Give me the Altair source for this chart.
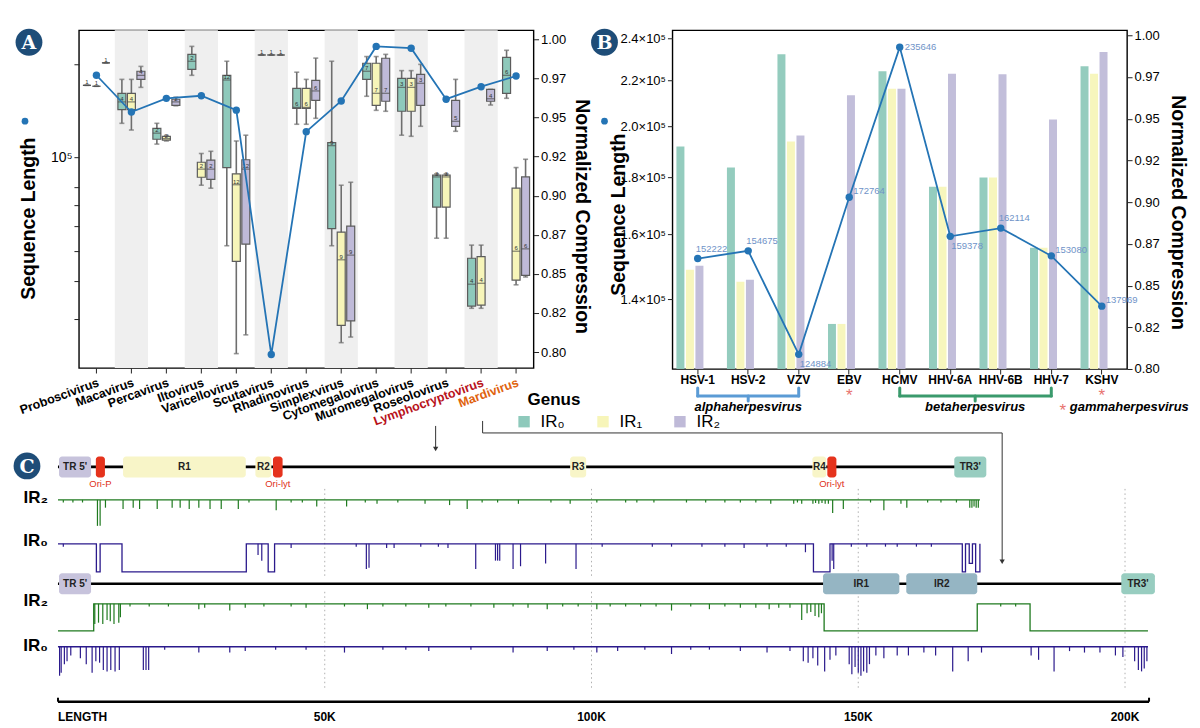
import altair as alt
import pandas as pd

FONT = "Liberation Sans"
IR_DOMAIN = ["IR0", "IR1", "IR2"]
IR_COLORS = ["#8ec9bb", "#f7f5b9", "#bfbad8"]
LINE_BLUE = "#2474b5"
LABEL_BLUE = "#6f93c8"
BADGE_BLUE = "#1e4d78"

# ---------------- Panel A data ----------------
genera = ["Proboscivirus", "Macavirus", "Percavirus", "Iltovirus", "Varicellovirus",
          "Scutavirus", "Rhadinovirus", "Simplexvirus", "Cytomegalovirus",
          "Muromegalovirus", "Roseolovirus", "Lymphocryptovirus", "Mardivirus"]
genus_seq_len = [184000, 140000, 155000, 158000, 142000, 23100, 121000,
                 152000, 228000, 225000, 154000, 169000, 183000]

# box statistics, per genus in order IR0, IR1, IR2
box_lo = [0.9706, 0.970, 0.985, 0.9463, 0.942, 0.9693, 0.933, 0.935, 0.9575,
          0.977, 0.9067, 0.9048, 0.868, 0.799, 0.811, 0.990, 0.990, 0.990,
          0.9457, 0.9457, 0.9495, 0.868, 0.806, 0.8096, 0.9636, 0.9546, 0.954,
          0.9387, 0.938, 0.9444, 0.8728, 0.8728, 0.9412, 0.828, 0.828, 0.958,
          0.9623, 0.843, 0.848]
box_q1 = [0.9706, 0.970, 0.985, 0.955, 0.955, 0.9744, 0.9361, 0.9355, 0.9578,
          0.9808, 0.9118, 0.9105, 0.918, 0.858, 0.869, 0.990, 0.990, 0.990,
          0.9559, 0.9559, 0.961, 0.879, 0.817, 0.820, 0.9744, 0.9578, 0.9604,
          0.954, 0.954, 0.9578, 0.8927, 0.8927, 0.9444, 0.8294, 0.830, 0.9604,
          0.9655, 0.846, 0.849]
box_med = [0.9706, 0.970, 0.985, 0.960, 0.960, 0.977, 0.940, 0.9365, 0.960,
           0.986, 0.917, 0.917, 0.974, 0.907, 0.917, 0.990, 0.990, 0.990,
           0.9565, 0.9565, 0.967, 0.932, 0.859, 0.862, 0.9796, 0.9655, 0.9655,
           0.9693, 0.9693, 0.9719, 0.912, 0.912, 0.9476, 0.8434, 0.844, 0.962,
           0.977, 0.8645, 0.866]
box_q3 = [0.9706, 0.970, 0.985, 0.9655, 0.9655, 0.9796, 0.9431, 0.938, 0.9617,
          0.9904, 0.9214, 0.9227, 0.977, 0.914, 0.923, 0.990, 0.990, 0.990,
          0.9687, 0.9687, 0.9738, 0.934, 0.8767, 0.8805, 0.9847, 0.9847, 0.9879,
          0.975, 0.975, 0.9776, 0.9131, 0.9131, 0.961, 0.860, 0.861, 0.968,
          0.9885, 0.9048, 0.912]
box_hi = [0.9706, 0.970, 0.985, 0.9744, 0.9744, 0.9827, 0.9463, 0.9385, 0.963,
          0.9955, 0.927, 0.9284, 0.986, 0.935, 0.9387, 0.990, 0.990, 0.990,
          0.979, 0.9744, 0.988, 0.986, 0.9067, 0.9086, 0.989, 0.989, 0.9904,
          0.980, 0.980, 0.984, 0.914, 0.914, 0.9744, 0.8684, 0.8684, 0.968,
          0.993, 0.918, 0.9233]
box_n = [1, 1, 1, 4, 4, 4, 2, 2, 2, 2, 2, 2, 12, 12, 12, 1, 1, 1, 6, 6, 6,
         9, 9, 9, 7, 7, 7, 3, 3, 3, 3, 3, 5, 4, 4, 4, 6, 6, 6]

# ---------------- Panel B data ----------------
viruses = ["HSV-1", "HSV-2", "VZV", "EBV", "HCMV", "HHV-6A", "HHV-6B", "HHV-7", "KSHV"]
virus_seq_len = [152222, 154675, 124884, 172764, 235646, 159378, 162114, 153080, 137969]
comp_ir0 = [0.9333, 0.9207, 0.9886, 0.827, 0.9784, 0.9093, 0.9147, 0.8727, 0.9814]
comp_ir1 = [0.8595, 0.8523, 0.9363, 0.827, 0.968, 0.9093, 0.9147, 0.8727, 0.977]
comp_ir2 = [0.8619, 0.8535, 0.940, 0.964, 0.968, 0.977, 0.9766, 0.9495, 0.990]
lab_above = ["HSV-1", "HSV-2", "HHV-6B"]
lab_below = ["VZV", "HHV-6A"]
lab_upright = ["EBV", "HHV-7", "KSHV"]
lab_right = ["HCMV"]
starred = ["EBV", "KSHV"]

# ---------------- Panel C data (kb) ----------------
top_len, bot_len = 172.8, 204.5
top_reg_start = [0.2, 7.1, 12.2, 37.0, 40.3, 96.0, 141.4, 144.2, 168.0]
top_reg_end = [6.2, 8.8, 35.2, 40.0, 42.1, 99.0, 144.0, 145.9, 174.0]
top_reg_kind = ["TR5", "ori", "R", "R", "ori", "R", "R", "ori", "TR3"]
top_reg_label = ["TR 5'", "", "R1", "R2", "", "R3", "R4", "", "TR3'"]
top_ori_names = ["Ori-P", "Ori-lyt", "Ori-lyt"]
bot_reg_start = [0.2, 143.4, 159.0, 199.3]
bot_reg_end = [6.2, 157.7, 172.3, 205.6]
bot_reg_kind = ["TR5", "IR", "IR", "TR3"]
bot_reg_label = ["TR 5'", "IR1", "IR2", "TR3'"]
region_kinds = ["TR5", "ori", "R", "TR3", "IR"]
region_colors = ["#c7c3dc", "#e5331d", "#f8f5c8", "#98cdc0", "#95b5c3"]

top_ir2_levels = [(0, 1), (172.8, 1)]
top_ir2_spikes = [(1.0, 0.1), (2.8, 0.1), (4.6, 0.1), (7.4, 1.0), (7.9, 1.0), (8.9, 0.3),
                  (12.2, 0.35), (14.1, 0.3), (15.3, 0.35), (18.6, 0.35), (21.4, 0.3), (22.9, 0.3),
                  (24.6, 0.35), (26.4, 0.3), (28.5, 0.35), (30.6, 0.35), (33.8, 0.35), (35.8, 0.1),
                  (40.9, 0.4), (43.7, 0.1), (45.8, 0.1), (48.5, 0.25), (54.1, 0.25), (57.6, 0.1),
                  (59.8, 0.15), (63.7, 0.1), (68.8, 0.15), (73.4, 0.2), (76.7, 0.35), (79.5, 0.1),
                  (82.4, 0.1), (86.3, 0.15), (92.4, 0.1), (96.0, 0.15), (101.0, 0.1), (106.4, 0.1),
                  (108.5, 0.1), (111.7, 0.1), (117.8, 0.1), (121.4, 0.1), (125.0, 0.1), (127.9, 0.1),
                  (130.8, 0.1), (133.6, 0.15), (137.9, 0.15), (138.6, 0.1), (139.4, 0.15),
                  (141.5, 0.15), (142.0, 0.12), (142.6, 0.15), (143.2, 0.12), (143.8, 0.15),
                  (144.4, 0.15), (145.2, 0.5), (147.2, 0.35), (152.3, 0.1), (154.8, 0.4),
                  (158.0, 0.15), (159.1, 0.3), (163.0, 0.1), (165.5, 0.1), (168.4, 0.1),
                  (170.9, 0.3), (171.3, 0.3), (171.7, 0.25), (172.1, 0.3), (172.5, 0.3)]
top_ir0_levels = [(0, 1), (7.2, 0), (7.9, 1), (12.0, 0), (35.3, 1), (39.4, 0), (40.6, 1),
                  (141.6, 0), (144.7, 1), (169.5, 0), (170.1, 1), (170.8, 0.3), (171.4, 1),
                  (172.0, 0), (172.8, 1)]
top_ir0_spikes = [(1.0, 0.1), (37.5, 0.4), (38.2, 0.6), (43.7, 0.15), (55.9, 0.1), (57.8, 0.9),
                  (58.3, 0.85), (61.6, 0.15), (63.0, 0.15), (68.0, 0.1), (71.3, 0.1), (73.1, 0.15),
                  (78.3, 0.9), (82.0, 0.6), (82.4, 0.6), (82.8, 0.6), (85.3, 0.9), (86.7, 0.8),
                  (91.4, 0.7), (97.1, 0.9), (102.0, 0.1), (111.4, 0.1), (115.0, 0.1), (120.7, 0.1),
                  (125.0, 0.1), (128.6, 0.15), (132.9, 0.1), (136.5, 0.1), (140.1, 0.3),
                  (145.1, 0.6), (145.4, 0.9), (148.7, 0.1), (151.6, 0.1), (155.1, 0.1),
                  (157.3, 0.1), (160.9, 0.1), (163.7, 0.1)]
bot_ir2_levels = [(0, 0), (6.7, 1), (143.6, 0), (172.3, 1), (182.2, 0), (204.3, 0)]
bot_ir2_spikes = [(6.9, 0.75), (7.6, 0.7), (8.4, 0.75), (9.2, 0.6), (9.8, 0.65), (10.5, 0.75),
                  (11.4, 0.7), (11.7, 0.5), (13.5, 0.1), (17.1, 0.1), (20.7, 0.1), (26.4, 0.2),
                  (27.5, 0.15), (32.2, 0.25), (35.1, 0.15), (38.6, 0.1), (43.7, 0.1), (46.5, 0.15),
                  (53.7, 0.1), (58.0, 0.2), (60.9, 0.1), (65.2, 0.1), (69.5, 0.15), (72.7, 0.1),
                  (77.4, 0.1), (81.7, 0.15), (85.3, 0.1), (88.1, 0.15), (91.7, 0.2), (94.6, 0.1),
                  (97.5, 0.1), (101.0, 0.2), (103.5, 0.1), (106.4, 0.1), (109.2, 0.1), (112.1, 0.1),
                  (115.0, 0.25), (118.6, 0.1), (122.1, 0.2), (125.0, 0.1), (127.9, 0.15),
                  (130.8, 0.15), (133.3, 0.2), (135.1, 0.15), (137.2, 0.15), (139.4, 0.6),
                  (140.4, 0.35), (141.1, 0.3), (141.9, 0.45), (142.6, 0.5), (143.1, 0.35),
                  (176.7, 0.1), (179.5, 0.1)]
bot_ir0_levels = [(0, 1), (204.3, 1)]
bot_ir0_spikes = [(0.3, 1.0), (0.6, 0.9), (1.2, 0.6), (1.7, 0.5), (2.4, 0.3), (4.2, 0.4),
                  (5.3, 0.6), (6.4, 0.9), (7.1, 0.5), (7.8, 0.55), (8.5, 0.8), (9.2, 0.85),
                  (9.9, 0.8), (10.7, 0.85), (11.5, 0.8), (16.0, 0.8), (16.5, 0.8), (17.0, 0.8),
                  (20.0, 0.1), (26.4, 0.2), (32.2, 0.2), (35.1, 0.15), (40.8, 0.1), (46.5, 0.1),
                  (53.7, 0.2), (60.9, 0.1), (65.2, 0.1), (69.5, 0.15), (77.4, 0.1), (85.3, 0.2),
                  (91.7, 0.15), (96.7, 0.1), (101.0, 0.2), (104.9, 0.15), (110.0, 0.1),
                  (115.0, 0.25), (118.6, 0.1), (122.1, 0.1), (127.9, 0.15), (132.9, 0.2),
                  (137.2, 0.15), (139.7, 0.5), (140.6, 0.55), (141.5, 0.4), (142.4, 0.65),
                  (143.7, 0.85), (144.7, 0.45), (145.8, 0.3), (148.3, 0.6), (148.8, 0.95),
                  (149.4, 0.7), (150.0, 0.9), (150.5, 1.0), (151.0, 0.85), (151.6, 0.9),
                  (152.1, 0.6), (153.3, 0.3), (154.8, 0.4), (157.3, 0.3), (159.4, 0.3),
                  (162.3, 0.2), (164.5, 0.3), (167.7, 0.85), (170.6, 0.5), (173.1, 0.2),
                  (182.4, 0.3), (183.8, 0.45), (186.7, 0.85), (189.6, 0.15), (192.4, 0.2),
                  (195.3, 0.2), (198.2, 0.3), (199.6, 0.35), (201.8, 0.5), (202.5, 0.8),
                  (203.1, 0.85), (203.6, 0.75), (204.1, 0.5)]
grid_kb = [50, 100, 150, 200]
tick_kb = [0, 50, 100, 150, 200]
tick_text = ["LENGTH", "50K", "100K", "150K", "200K"]

# ======================================================================
ONE = pd.DataFrame({"k": [0]})
LEG = alt.Legend(title="\u2800Genus", orient="none", legendX=437, legendY=362,
                 direction="horizontal", titleFontSize=17, titleFontWeight="bold", labelFontSize=17,
                 symbolType="square", symbolSize=130, symbolStrokeWidth=0, columnPadding=29,
                 labelOffset=8, titlePadding=4,
                 labelExpr="datum.label == 'IR0' ? 'IR₀' : datum.label == 'IR1' ? 'IR₁' : 'IR₂'")
colorIR = alt.Color("ir:N", scale=alt.Scale(domain=IR_DOMAIN, range=IR_COLORS), legend=LEG)
comp_ticks = [0.8, 0.825, 0.85, 0.875, 0.9, 0.925, 0.95, 0.975, 1.0]
comp_lab = "format(floor(datum.value*100+0.001)/100, '.2f')"
TITLE_FS = 19.5


def badge(letter, x, y):
    c = alt.Chart(ONE).mark_circle(size=720, color=BADGE_BLUE, opacity=1).encode(
        x=alt.value(x), y=alt.value(y))
    t = alt.Chart(ONE).mark_text(text=letter, font="DejaVu Serif", fontWeight="bold", fontSize=19,
                                 color="white", baseline="middle", align="center").encode(
        x=alt.value(x), y=alt.value(y + 1))
    return [c, t]


def blue_dot(x, y):
    return alt.Chart(ONE).mark_circle(size=45, color=LINE_BLUE, opacity=1).encode(
        x=alt.value(x), y=alt.value(y))


# ---------------- Panel A ----------------
WA, HA = 455, 338
dfA = pd.DataFrame({"genus": genera, "seq_len": genus_seq_len})
dfBand = pd.DataFrame({"genus": genera[1::2]})
dfBox = pd.DataFrame({"genus": [g for g in genera for _ in IR_DOMAIN],
                      "ir": IR_DOMAIN * len(genera), "lo": box_lo, "q1": box_q1,
                      "med": box_med, "q3": box_q3, "hi": box_hi, "n": box_n})
label_color = ("datum.value == 'Lymphocryptovirus' ? '#b8121b' : "
               "datum.value == 'Mardivirus' ? '#e0620d' : 'black'")
xA = alt.X("genus:N", sort=genera, scale=alt.Scale(domain=genera, paddingInner=0, paddingOuter=0),
           axis=alt.Axis(title=None, labelAngle=-20, labelAlign="right", labelBaseline="top",
                         labelFontSize=12.5, labelFontWeight="bold", tickSize=5, labelPadding=3,
                         domain=False, labelColor=alt.ExprRef(expr=label_color)))
xOffA = alt.XOffset("ir:N", scale=alt.Scale(domain=IR_DOMAIN, paddingInner=0.16, paddingOuter=0.42))
yCompA = alt.Scale(domain=[0.7898, 1.0058], nice=False, zero=False)
axCompA = alt.Axis(orient="right", values=comp_ticks, labelExpr=comp_lab, title="Normalized Compression",
                   titleAngle=90, titleFontSize=TITLE_FS, titleFontWeight="bold", labelFontSize=13,
                   tickSize=5, domain=False, grid=False, titleX=38, titleBaseline="bottom", titleY=186)
yLogA = alt.Scale(type="log", domain=[20900, 257000], nice=False)
axLogA = alt.Axis(orient="left", values=[30000, 40000, 50000, 60000, 70000, 80000, 100000, 200000],
                  labelExpr="datum.value == 100000 ? '10⁵' : ''", labelFontSize=14, tickSize=5,
                  domain=False, grid=False, title="Sequence Length", titleFontSize=TITLE_FS,
                  titleFontWeight="bold", titleX=-40, titleBaseline="bottom", titleY=188)

bands = alt.Chart(dfBand).mark_bar(color="#efefef", width=alt.RelativeBandSize(0.95)).encode(x=xA)
bx = alt.Chart(dfBox)
whisk = bx.mark_rule(color="#6e6e6e", strokeWidth=1.6).encode(
    x=xA, xOffset=xOffA, y=alt.Y("lo:Q", scale=yCompA, axis=axCompA), y2="hi:Q")
cap_lo = bx.mark_tick(orient="horizontal", size=5, thickness=1.6, color="#6e6e6e").encode(
    x=xA, xOffset=xOffA, y=alt.Y("lo:Q", scale=yCompA, axis=axCompA))
cap_hi = bx.mark_tick(orient="horizontal", size=5, thickness=1.6, color="#6e6e6e").encode(
    x=xA, xOffset=xOffA, y=alt.Y("hi:Q", scale=yCompA, axis=axCompA))
boxes = bx.mark_bar(stroke="#5c5c5c", strokeWidth=1.2).encode(
    x=xA, xOffset=xOffA, y=alt.Y("q1:Q", scale=yCompA, axis=axCompA), y2="q3:Q", color=colorIR)
meds = bx.mark_tick(orient="horizontal", size=8, thickness=1.2, color="#4d4d4d").encode(
    x=xA, xOffset=xOffA, y=alt.Y("med:Q", scale=yCompA, axis=axCompA))
counts = bx.mark_text(fontSize=6, color="#333333", dy=-3).encode(
    x=xA, xOffset=xOffA, y=alt.Y("med:Q", scale=yCompA, axis=axCompA), text="n:Q")
box_layer = alt.layer(whisk, cap_lo, cap_hi, boxes, meds, counts)

lnA = alt.Chart(dfA).mark_line(color=LINE_BLUE, strokeWidth=1.8).encode(
    x=xA, y=alt.Y("seq_len:Q", scale=yLogA, axis=axLogA))
ptA = alt.Chart(dfA).mark_circle(size=55, color=LINE_BLUE, opacity=1).encode(
    x=xA, y=alt.Y("seq_len:Q", scale=yLogA, axis=axLogA))
line_layer = alt.layer(lnA, ptA)

A = alt.layer(bands, box_layer, line_layer, *badge("A", -50, 12), blue_dot(-54, 91)).resolve_scale(
    y="independent").properties(width=WA, height=HA)

# ---------------- Panel B ----------------
WB, HB = 455, 339
dfB = pd.DataFrame({"virus": viruses, "seq_len": virus_seq_len})
dfBars = pd.DataFrame({"virus": viruses * 3, "ir": [i for i in IR_DOMAIN for _ in viruses],
                       "comp": comp_ir0 + comp_ir1 + comp_ir2})
xB = alt.X("virus:N", sort=viruses, scale=alt.Scale(domain=viruses, paddingInner=0, paddingOuter=0),
           axis=alt.Axis(title=None, labelAngle=0, labelFontSize=12, labelFontWeight="bold",
                         tickSize=5, domain=False, labelPadding=1))
xOffB = alt.XOffset("ir:N", scale=alt.Scale(domain=IR_DOMAIN, paddingInner=0, paddingOuter=0.4))
yCompB = alt.Scale(domain=[0.80, 1.003], nice=False, zero=False)
axCompB = alt.Axis(orient="right", values=comp_ticks, labelExpr=comp_lab, title="Normalized Compression",
                   titleAngle=90, titleFontSize=TITLE_FS, titleFontWeight="bold", labelFontSize=13,
                   tickSize=5, domain=False, grid=False, titleX=40, titleBaseline="bottom", titleY=182)
yLogB = alt.Scale(type="log", domain=[121160, 244000], nice=False)
axLogB = alt.Axis(orient="left", values=[140000, 160000, 180000, 200000, 220000, 240000],
                  labelExpr="format(datum.value/100000, '.1f') + '×10⁵'", labelFontSize=13, tickSize=5,
                  domain=False, grid=False, title="Sequence Length", titleFontSize=TITLE_FS,
                  titleFontWeight="bold", titleX=-44, titleBaseline="bottom", titleY=184)

bars = alt.Chart(dfBars).mark_bar(opacity=0.95).encode(
    x=xB, xOffset=xOffB, y=alt.Y("comp:Q", scale=yCompB, axis=axCompB), y2=alt.datum(0.8), color=colorIR)
lnB = alt.Chart(dfB).mark_line(color=LINE_BLUE, strokeWidth=1.8).encode(
    x=xB, y=alt.Y("seq_len:Q", scale=yLogB, axis=axLogB))
ptB = alt.Chart(dfB).mark_circle(size=55, color=LINE_BLUE, opacity=1).encode(
    x=xB, y=alt.Y("seq_len:Q", scale=yLogB, axis=axLogB))


def val_labels(names, dx, dy):
    return alt.Chart(dfB).transform_filter(alt.FieldOneOfPredicate(field="virus", oneOf=names)).mark_text(
        fontSize=9.5, color=LABEL_BLUE, align="left", dx=dx, dy=dy).encode(
        x=xB, y=alt.Y("seq_len:Q", scale=yLogB, axis=axLogB), text="seq_len:Q")


lineB = alt.layer(lnB, ptB, val_labels(lab_above, -2, -10), val_labels(lab_below, 1, 10),
                  val_labels(lab_upright, 4, -6), val_labels(lab_right, 5, 0))

dfStar = pd.DataFrame({"virus": starred})
stars = alt.Chart(dfStar).mark_text(text="*", fontSize=17, color="#e8736f").encode(
    x=xB, y=alt.value(366))
ALPHA_C, BETA_C = "#5b9bd5", "#3a9a6c"
dfAlpha = pd.DataFrame({"virus": ["HSV-1"], "virus_end": ["VZV"]})
dfBeta = pd.DataFrame({"virus": ["HCMV"], "virus_end": ["HHV-7"]})
brace = []
for dfg, col in [(dfAlpha, ALPHA_C), (dfBeta, BETA_C)]:
    brace.append(alt.Chart(dfg).mark_rule(color=col, strokeWidth=3, strokeCap="round").encode(
        x=xB, x2="virus_end:N", y=alt.value(366)))
    brace.append(alt.Chart(dfg).mark_rule(color=col, strokeWidth=3, strokeCap="round").encode(
        x=xB, y=alt.value(358), y2=alt.value(366)))
    brace.append(alt.Chart(dfg.assign(virus=dfg["virus_end"])).mark_rule(
        color=col, strokeWidth=3, strokeCap="round").encode(x=xB, y=alt.value(358), y2=alt.value(366)))
brace.append(alt.Chart(pd.DataFrame({"virus": ["HSV-2"]})).mark_rule(
    color=ALPHA_C, strokeWidth=3, strokeCap="round").encode(x=xB, y=alt.value(366), y2=alt.value(371)))
brace.append(alt.Chart(ONE).mark_rule(color=BETA_C, strokeWidth=3, strokeCap="round").encode(
    x=alt.value(303), y=alt.value(366), y2=alt.value(371)))
grp_style = dict(fontSize=13, fontStyle="italic", fontWeight="bold", color="black", baseline="middle")
g_alpha = alt.Chart(pd.DataFrame({"virus": ["HSV-2"]})).mark_text(text="alphaherpesvirus", **grp_style).encode(
    x=xB, y=alt.value(377))
g_beta = alt.Chart(ONE).mark_text(text="betaherpesvirus", **grp_style).encode(
    x=alt.value(303), y=alt.value(377))
g_gamma = alt.Chart(pd.DataFrame({"virus": ["KSHV"]})).mark_text(
    text="gammaherpesvirus", align="left", dx=-32, **grp_style).encode(x=xB, y=alt.value(377))
g_gstar = alt.Chart(pd.DataFrame({"virus": ["KSHV"]})).mark_text(
    text="*", fontSize=17, color="#e8736f", dx=-39).encode(x=xB, y=alt.value(381))

B = alt.layer(bars, lineB, stars, *brace, g_alpha, g_beta, g_gamma, g_gstar,
              *badge("B", -68, 12), blue_dot(-68, 91)).resolve_scale(
    y="independent").properties(width=WB, height=HB)

# ---------------- Panel C ----------------
PX_PER_KB = 5.34
KB0 = 3.93          # genome position at the panel's origin (0 kb sits a little left of it)
KB1 = 204.5
WC, HC = round((KB1 - KB0) * PX_PER_KB), 250
ROW_MAP1, ROW_MAP2 = 15, 132
BOX_H = 10.5
TRK = {"ir2a": (48, 26), "ir0a": (92, 28), "ir2b": (152, 27), "ir0b": (195, 29)}
IR2_COL, IR0_COL = "#1f7a1f", "#2b1a8c"
xCscale = alt.Scale(domain=[KB0, KB1], nice=False, zero=False)
xC = alt.X("pos:Q", scale=xCscale, axis=None)
yC = alt.Scale(domain=[0, HC], reverse=True, nice=False, zero=False)
OX = -21  # pixel offset of 0 kb from the panel origin


def yc(f):
    return alt.Y(f + ":Q", scale=yC, axis=None)


def track(levels, spikes, key, color):
    base, depth = TRK[key]
    lv = pd.DataFrame(levels, columns=["pos", "level"])
    sp = pd.DataFrame(spikes, columns=["pos", "depth"])
    ln = alt.Chart(lv).transform_calculate(yy=f"{base} + (1 - datum.level) * {depth}").mark_line(
        interpolate="step-after", color=color, strokeWidth=1.3).encode(x=xC, y=yc("yy"))
    rl = alt.Chart(sp).transform_calculate(y0=f"{base}", y1=f"{base} + datum.depth * {depth}").mark_rule(
        color=color, strokeWidth=1.2).encode(x=xC, y=yc("y0"), y2="y1:Q")
    return [ln, rl]


def genome(length, starts, ends, kinds, labels, row):
    lay = []
    lay.append(alt.Chart(pd.DataFrame({"pos": [0], "end": [length]})).transform_calculate(
        yy=f"{row}").mark_rule(color="black", strokeWidth=2.6).encode(x=xC, x2="end:Q", y=yc("yy")))
    reg = pd.DataFrame({"pos": starts, "end": ends, "kind": kinds, "label": labels})
    lay.append(alt.Chart(reg).transform_calculate(
        y0=f"{row} - {BOX_H}", y1=f"{row} + {BOX_H}").mark_rect(cornerRadius=3).encode(
        x=xC, x2="end:Q", y=yc("y0"), y2="y1:Q",
        fill=alt.Fill("kind:N", scale=alt.Scale(domain=region_kinds, range=region_colors), legend=None)))
    lay.append(alt.Chart(reg).transform_filter("datum.label != ''").transform_calculate(
        mid="(datum.pos + datum.end) / 2", yy=f"{row}").mark_text(
        fontSize=10, fontWeight="bold", color="#222222", baseline="middle").encode(
        x=alt.X("mid:Q", scale=xCscale, axis=None), y=yc("yy"), text="label:N"))
    return lay


ori = pd.DataFrame({"pos": [s for s, k in zip(top_reg_start, top_reg_kind) if k == "ori"],
                    "end": [e for e, k in zip(top_reg_end, top_reg_kind) if k == "ori"],
                    "name": top_ori_names})
ori_lab = alt.Chart(ori).transform_calculate(mid="(datum.pos + datum.end) / 2",
                                             yy=f"{ROW_MAP1 + 17}").mark_text(
    fontSize=9.5, color="#e03020", baseline="middle").encode(
    x=alt.X("mid:Q", scale=xCscale, axis=None), y=yc("yy"), text="name:N")

grid_df = pd.DataFrame({"pos": grid_kb})
gridC = [alt.Chart(grid_df).transform_calculate(a=f"{a}", b=f"{b}").mark_rule(
    color="#b0b0b0", strokeDash=[1.5, 3], strokeWidth=1).encode(x=xC, y=yc("a"), y2="b:Q")
    for a, b in [(37, 127), (140, 236)]]

row_lab_df = pd.DataFrame({"label": ["IR₂", "IR₀", "IR₂", "IR₀"],
                           "yy": [TRK["ir2a"][0] - 2, TRK["ir0a"][0] - 3,
                                  TRK["ir2b"][0] - 3, TRK["ir0b"][0] - 1]})
row_labs = alt.Chart(row_lab_df).mark_text(fontSize=17, fontWeight="bold", align="right",
                                           baseline="middle", color="black").encode(
    x=alt.value(OX - 10), y=yc("yy"), text="label:N")

axis_line = alt.Chart(pd.DataFrame({"pos": [0], "end": [bot_len]})).transform_calculate(
    yy=f"{HC}").mark_rule(color="black", strokeWidth=2.6).encode(x=xC, x2="end:Q", y=yc("yy"))
axis_end = alt.Chart(pd.DataFrame({"pos": [0, bot_len]})).transform_calculate(
    a=f"{HC - 4}", b=f"{HC}").mark_rule(color="black", strokeWidth=2).encode(x=xC, y=yc("a"), y2="b:Q")
tick_df = pd.DataFrame({"pos": tick_kb, "label": tick_text})
ax_len = alt.Chart(tick_df).transform_filter("datum.pos == 0").transform_calculate(
    yy=f"{HC + 15}").mark_text(fontSize=12, fontWeight="bold", align="left", baseline="middle").encode(
    x=xC, y=yc("yy"), text="label:N")
ax_k = alt.Chart(tick_df).transform_filter("datum.pos > 0").transform_calculate(
    yy=f"{HC + 15}").mark_text(fontSize=12, fontWeight="bold", align="center", baseline="middle").encode(
    x=xC, y=yc("yy"), text="label:N")

AR = "#333333"
arrows = [
    alt.Chart(ONE).mark_rule(color=AR, strokeWidth=1).encode(
        x=alt.value(OX + 378), y=alt.value(-26), y2=alt.value(-3)),
    alt.Chart(ONE).mark_point(shape="triangle-down", filled=True, size=28, color=AR, opacity=1).encode(
        x=alt.value(OX + 378), y=alt.value(-3)),
    alt.Chart(ONE).mark_rule(color=AR, strokeWidth=1).encode(
        x=alt.value(OX + 425), y=alt.value(-31), y2=alt.value(-19)),
    alt.Chart(ONE).mark_rule(color=AR, strokeWidth=1).encode(
        x=alt.value(OX + 425), x2=alt.value(OX + 945), y=alt.value(-19)),
    alt.Chart(ONE).mark_rule(color=AR, strokeWidth=1).encode(
        x=alt.value(OX + 945), y=alt.value(-19), y2=alt.value(110)),
    alt.Chart(ONE).mark_point(shape="triangle-down", filled=True, size=28, color=AR, opacity=1).encode(
        x=alt.value(OX + 945), y=alt.value(110)),
]

C = alt.layer(
    *gridC,
    *genome(top_len, top_reg_start, top_reg_end, top_reg_kind, top_reg_label, ROW_MAP1),
    ori_lab,
    *track(top_ir2_levels, top_ir2_spikes, "ir2a", IR2_COL),
    *track(top_ir0_levels, top_ir0_spikes, "ir0a", IR0_COL),
    *genome(bot_len, bot_reg_start, bot_reg_end, bot_reg_kind, bot_reg_label, ROW_MAP2),
    *track(bot_ir2_levels, bot_ir2_spikes, "ir2b", IR2_COL),
    *track(bot_ir0_levels, bot_ir0_spikes, "ir0b", IR0_COL),
    row_labs, axis_line, axis_end, ax_len, ax_k, *arrows, *badge("C", OX - 31, 14),
).properties(width=WC, height=HC, view=alt.ViewBackground(stroke="transparent"))

top = alt.hconcat(A, B, spacing=139, bounds="flush")
chart = alt.vconcat(top, C, spacing=-10).properties(
    padding={"left": 4, "top": 19, "right": 2, "bottom": 0}
).configure(font=FONT).configure_view(stroke="black", strokeWidth=1.4).configure_axis(
    labelFont=FONT, titleFont=FONT, labelColor="black", titleColor="black", tickColor="#222222",
    domainColor="black", grid=False
).configure_legend(labelFont=FONT, titleFont=FONT).configure_text(font=FONT)

chart.save("out.html", embed_options={"renderer": "svg", "actions": False})
